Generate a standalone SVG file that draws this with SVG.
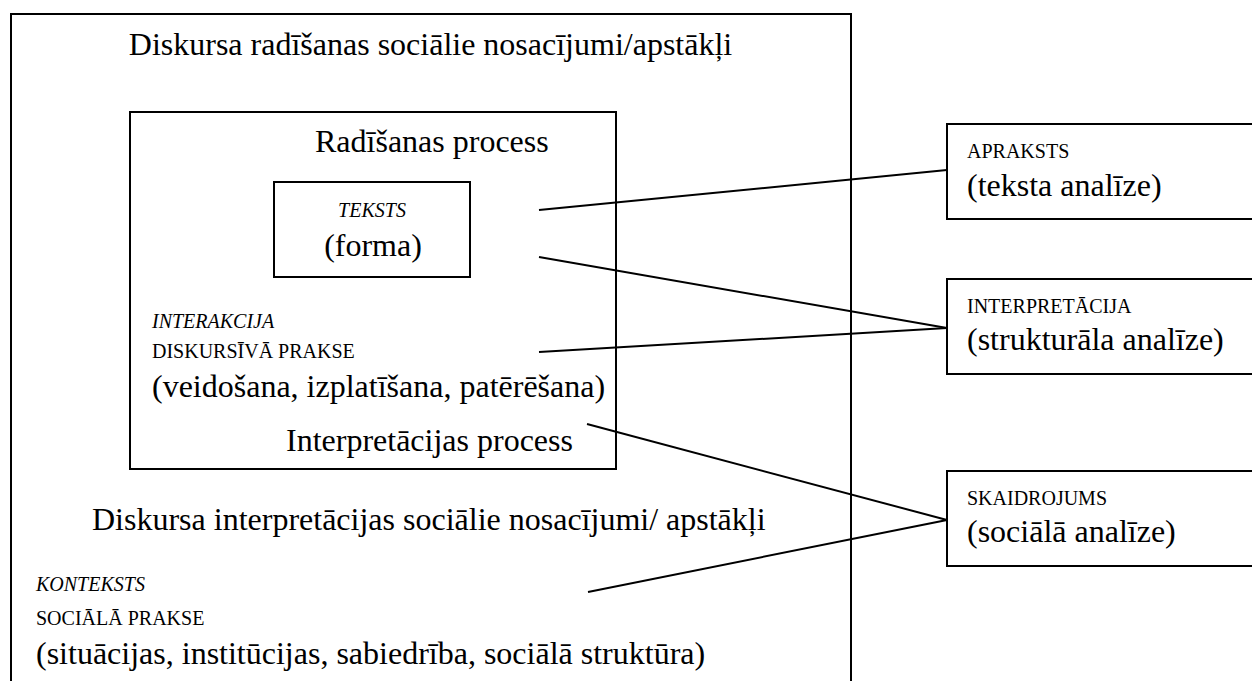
<svg xmlns="http://www.w3.org/2000/svg" width="1252" height="681" viewBox="0 0 1252 681">
<style>
.box{fill:none;stroke:#000;stroke-width:2}
.ln{fill:none;stroke:#000;stroke-width:2}
text{font-family:"Liberation Serif","Times New Roman",serif;fill:#000}
.l{font-size:32px}
.s{font-size:20px}
.i{font-style:italic}
</style>
<rect width="1252" height="681" fill="#fff"/>
<g id="outer">
<path class="box" d="M11,690 V14 H851 V690"/>
<text class="l" x="430.5" y="55" text-anchor="middle">Diskursa radīšanas sociālie nosacījumi/apstākļi</text>
<text class="l" x="92" y="530">Diskursa interpretācijas sociālie nosacījumi/ apstākļi</text>
<text class="s i" x="36" y="591">KONTEKSTS</text>
<text class="s" x="36" y="625">SOCIĀLĀ PRAKSE</text>
<text class="l" x="36" y="664">(situācijas, institūcijas, sabiedrība, sociālā struktūra)</text>
</g>
<g id="inner">
<rect class="box" x="130" y="112" width="486" height="357"/>
<text class="l" x="315" y="152">Radīšanas process</text>
<text class="s i" x="152" y="328">INTERAKCIJA</text>
<text class="s" x="152" y="358">DISKURSĪVĀ PRAKSE</text>
<text class="l" x="152" y="397">(veidošana, izplatīšana, patērēšana)</text>
<text class="l" x="286" y="451">Interpretācijas process</text>
</g>
<g id="teksts">
<rect class="box" x="274" y="182" width="196" height="95"/>
<text class="s i" x="372" y="217" text-anchor="middle">TEKSTS</text>
<text class="l" x="373" y="256" text-anchor="middle">(forma)</text>
</g>
<g id="apraksts">
<rect class="box" x="947" y="124" width="320" height="95"/>
<text class="s" x="967" y="158">APRAKSTS</text>
<text class="l" x="967" y="196">(teksta analīze)</text>
</g>
<g id="interpretacija">
<rect class="box" x="947" y="279" width="320" height="95"/>
<text class="s" x="967" y="313">INTERPRETĀCIJA</text>
<text class="l" x="967" y="350">(strukturāla analīze)</text>
</g>
<g id="skaidrojums">
<rect class="box" x="947" y="471" width="320" height="95"/>
<text class="s" x="967" y="505">SKAIDROJUMS</text>
<text class="l" x="967" y="542">(sociālā analīze)</text>
</g>
<g id="connectors">
<line class="ln" x1="539" y1="210" x2="947" y2="170"/>
<line class="ln" x1="539" y1="257" x2="947" y2="328"/>
<line class="ln" x1="539" y1="352" x2="947" y2="328"/>
<line class="ln" x1="587" y1="424" x2="947" y2="520"/>
<line class="ln" x1="588" y1="592" x2="947" y2="520"/>
</g>
</svg>
